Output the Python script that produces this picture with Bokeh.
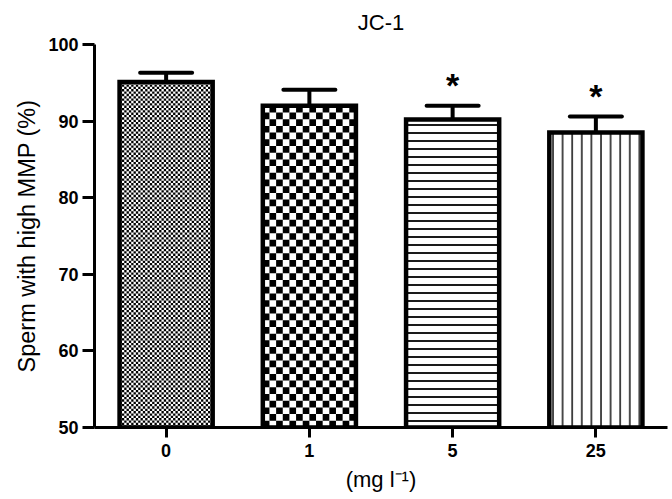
from bokeh.plotting import figure
from bokeh.models import (ColumnDataSource, FactorRange, FixedTicker, Whisker, TeeHead,
                          Range1d)
from bokeh.core.properties import value
from bokeh.embed import file_html
from bokeh.resources import INLINE

# ---- data ----
categories = ["0", "1", "5", "25"]
means = [95.1, 92.0, 90.2, 88.5]
sem = [1.2, 2.1, 1.8, 2.1]
marks = ["", "", "*", "*"]
y_ticks = [50, 60, 70, 80, 90, 100]
title_text = "JC-1"
y_label = "Sperm with high MMP (%)"
x_label = "(mg l\u207b\u00b9)"

# ---- layout / styles ----
FONT = "Liberation Sans"
W, H = 672, 499
BL, BR, BT, BB = 94, 5, 44, 72
Y_MIN, Y_MAX = 50, 100
BAR_W = 0.65
hatch_patterns = ["blank", "blank", "horizontal_line", "vertical_line"]
hatch_scales = [8, 8, 8, 9.6]
hatch_weights = [1, 1, 1.8, 1.4]
checker_cell_px = {0: 2.35, 1: 6.7}   # bar index -> checker cell size (px)

upper = [m + s for m, s in zip(means, sem)]
src = ColumnDataSource(dict(x=categories, mean=means, upper=upper, mark=marks,
                            pat=hatch_patterns, hs=hatch_scales, hw=hatch_weights))

p = figure(width=W, height=H, x_range=FactorRange(*categories, range_padding=0),
           y_range=Range1d(Y_MIN, Y_MAX), output_backend="svg", toolbar_location=None,
           min_border_left=BL, min_border_right=BR, min_border_top=BT, min_border_bottom=BB)

# bar fills (+ line hatches)
p.vbar(x="x", top="mean", bottom=Y_MIN, width=BAR_W, source=src,
       fill_color="white", line_color=None,
       hatch_pattern="pat", hatch_scale="hs", hatch_weight="hw", hatch_color="black")

# checkerboard fills, built from the bar values
px_per_cat = (W - BL - BR) / len(categories)
px_per_y = (H - BT - BB) / (Y_MAX - Y_MIN)
cx, cy, cw_l, ch_l = [], [], [], []
for i, cell in checker_cell_px.items():
    x0 = i + 0.5 - BAR_W / 2
    nx = max(1, round(BAR_W * px_per_cat / cell))
    ny = max(1, round((means[i] - Y_MIN) * px_per_y / cell))
    cw = BAR_W / nx
    ch = (means[i] - Y_MIN) / ny
    for r in range(ny):
        for c in range(nx):
            if (r + c) % 2 == 0:
                cx.append(x0 + (c + 0.5) * cw)
                cy.append(Y_MIN + (r + 0.5) * ch)
                cw_l.append(cw)
                ch_l.append(ch)
p.rect(x=cx, y=cy, width=cw_l, height=ch_l, fill_color="black", line_color=None)

# bar outlines
p.vbar(x="x", top="mean", bottom=Y_MIN, width=BAR_W, source=src,
       fill_color=None, line_color="black", line_width=4.5, line_join="miter")

wh = Whisker(source=src, base="x", upper="upper", lower="mean", dimension="height",
             line_width=4, line_color="black",
             upper_head=TeeHead(size=52, line_width=4, line_color="black", line_cap="round"),
             lower_head=None)
p.add_layout(wh)

p.text(x="x", y="upper", text="mark", source=src, text_font=value(FONT),
       text_font_size="34px", text_font_style="bold", text_align="center",
       text_baseline="alphabetic", y_offset=-21, text_color="black")

p.title.text = title_text
p.title.align = "center"
p.title.vertical_align = "top"
p.title.text_font = FONT
p.title.text_font_size = "22px"
p.title.text_font_style = "normal"
p.title.text_color = "black"
p.title.standoff = 16

p.xgrid.visible = False
p.ygrid.visible = False
p.outline_line_color = None

for ax in (p.xaxis[0], p.yaxis[0]):
    ax.axis_line_width = 3
    ax.major_tick_line_width = 3
    ax.minor_tick_line_color = None
    ax.major_tick_in = 0
    ax.major_label_text_font = FONT
    ax.major_label_text_font_size = "18px"
    ax.major_label_text_font_style = "bold"
    ax.major_label_text_color = "black"
    ax.axis_label_text_font = FONT
    ax.axis_label_text_font_style = "normal"
    ax.axis_label_text_color = "black"

p.yaxis.ticker = FixedTicker(ticks=y_ticks)
p.yaxis.major_tick_out = 12
p.yaxis.major_label_standoff = 4
p.yaxis.axis_label = y_label
p.yaxis.axis_label_text_font_size = "23.5px"
p.yaxis.axis_label_standoff = 5

p.xaxis.major_tick_out = 10
p.xaxis.major_label_standoff = 6
p.xaxis.axis_label = x_label
p.xaxis.axis_label_text_font_size = "22px"
p.xaxis.axis_label_standoff = 7

open("out.html", "w").write(file_html(p, INLINE))
